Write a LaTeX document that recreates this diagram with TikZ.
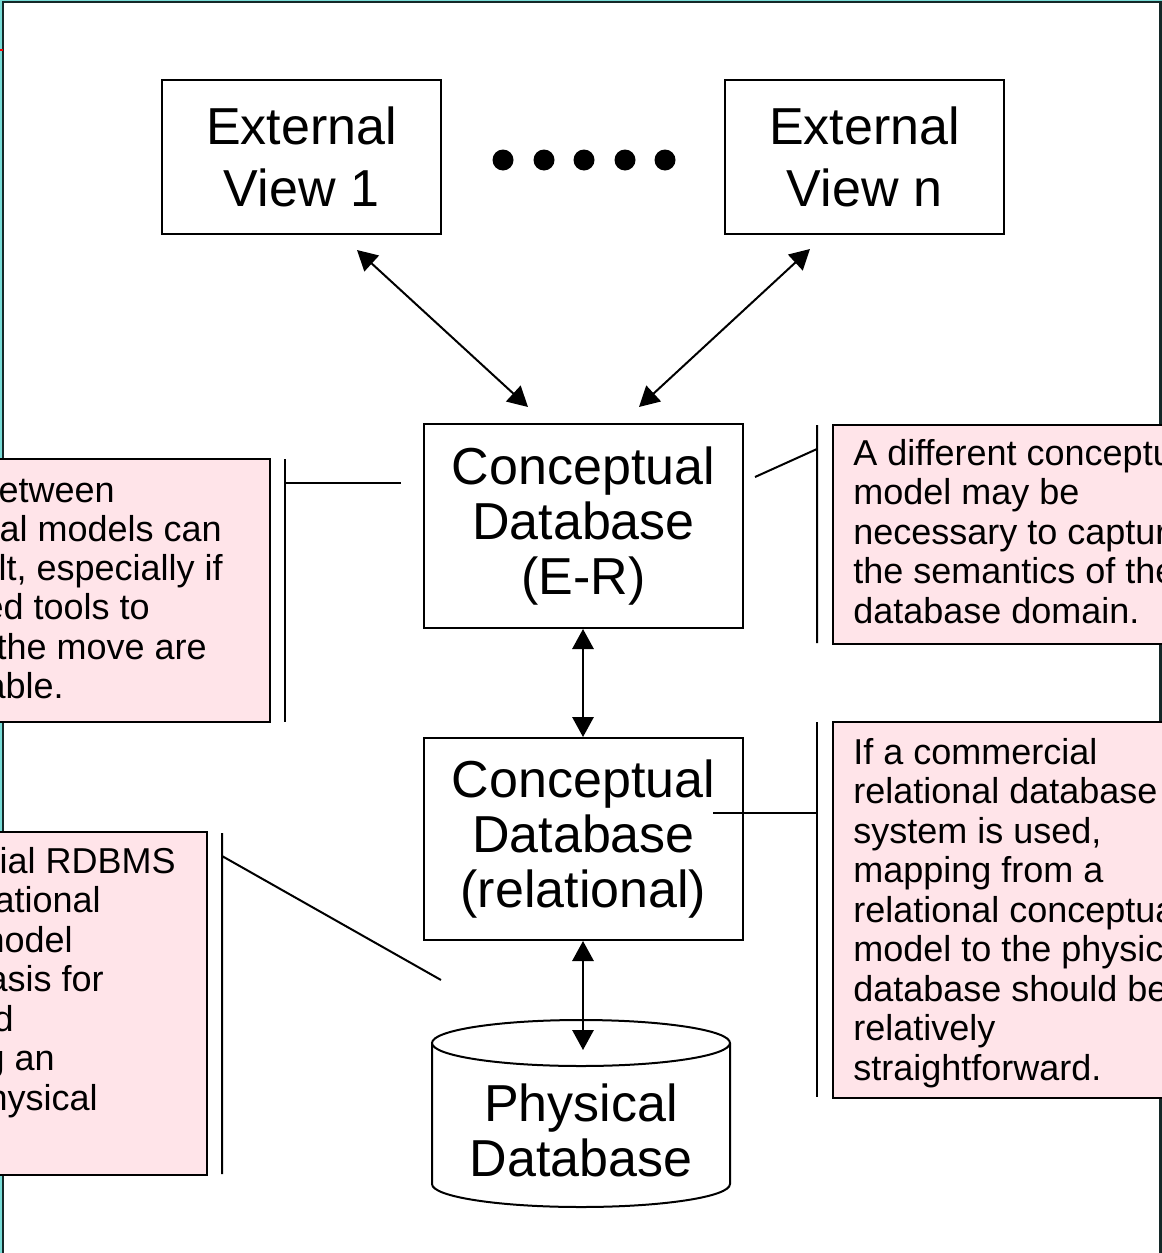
\documentclass[tikz,border=0pt]{standalone}
\usepackage{fontspec}
\setmainfont{Liberation Sans}
\usetikzlibrary{arrows.meta}
\definecolor{notepink}{RGB}{255,228,233}
\definecolor{frameink}{RGB}{20,40,40}
\definecolor{frameglow}{RGB}{120,220,215}
\begin{document}
\begin{tikzpicture}[x=0.75pt,y=-0.75pt,
  box/.style={draw, line width=1.5pt, inner sep=0pt, align=center,
    font=\fontsize{39}{41.25}\selectfont},
  note/.style={draw, line width=1.5pt, fill=notepink},
  notetext/.style={inner sep=0pt, font=\fontsize{27}{29.6}\selectfont},
  callout/.style={line width=1.5pt},
  link/.style={line width=1.5pt,
    {Triangle[length=15pt,width=16pt]}-{Triangle[length=15pt,width=16pt]}}
]
\useasboundingbox (0,0) rectangle (1162,1253);
\clip (0,0) rectangle (1162,1253);

% slide frame
\fill[frameglow] (0,0) rectangle (2,1253);
\fill[frameglow] (0,0) rectangle (1162,1);
\draw[frameink, line width=1.6pt] (3.2,1260) -- (3.2,2.3) -- (1160.5,2.3) -- (1160.5,1260);
\fill[red] (0,48.5) rectangle (2.5,50.5);

% note boxes
\draw[note] (-20,459) rectangle (270,722);
\draw[note] (-20,832) rectangle (207,1175);
\draw[note] (833,425) rectangle (1180,644);
\draw[note] (833,722) rectangle (1180,1098);

% callout bars and leaders
\coordinate (lt1) at (285,459);  \coordinate (lt2) at (285,722);
\coordinate (lt3) at (285,483);  \coordinate (lt4) at (401,483);
\draw[callout] (lt1) -- (lt2) (lt3) -- (lt4);
\coordinate (lb1) at (222,833);  \coordinate (lb2) at (222,1174);
\coordinate (lb3) at (222,856);  \coordinate (lb4) at (441,980);
\draw[callout] (lb1) -- (lb2) (lb3) -- (lb4);
\coordinate (rt1) at (817,425);  \coordinate (rt2) at (817,643);
\coordinate (rt3) at (817,449);  \coordinate (rt4) at (755,477);
\draw[callout] (rt1) -- (rt2) (rt3) -- (rt4);
\coordinate (rb1) at (817,722);  \coordinate (rb2) at (817,1097);
\coordinate (rb3) at (817,813);  \coordinate (rb4) at (713,813);
\draw[callout] (rb1) -- (rb2) (rb3) -- (rb4);

% external views
\node[box, minimum width=209.25pt, minimum height=115.5pt,
  font=\fontsize{39}{46.5}\selectfont] (ev1) at (301.5,157) {External\\View 1};
\node[box, minimum width=209.25pt, minimum height=115.5pt,
  font=\fontsize{39}{46.5}\selectfont] (evn) at (864.5,157) {External\\View n};
\foreach \dx in {503,544,584,625,665}
  \fill (\dx,160) circle[radius=10.5];

% conceptual levels
\node[box, minimum width=239.25pt, minimum height=153pt] (er) at (583.5,526)
  {Conceptual\\Database\\(E-R)};
\node[box, minimum width=239.25pt, minimum height=151.5pt] (rel) at (583.5,839)
  {Conceptual\\Database\\(relational)};

% physical database cylinder
\draw[line width=1.5pt, fill=white] (432,1043) -- (432,1184)
  .. controls (432,1196.7) and (498.7,1207) .. (581,1207)
  .. controls (663.3,1207) and (730,1196.7) .. (730,1184) -- (730,1043);
\draw[line width=1.5pt, fill=white] (581,1043) ellipse[x radius=149, y radius=23];
\node[inner sep=0pt, align=center, font=\fontsize{39}{41.25}\selectfont] (phys)
  at (581,1130.5) {Physical\\Database};
\coordinate (physTip) at (583,1050);

% mappings between levels
\coordinate (a1s) at (357,250);  \coordinate (a1e) at (528,407);
\coordinate (a2s) at (810,249);  \coordinate (a2e) at (639,407);
\draw[link] (a1s) -- (a1e);
\draw[link] (a2s) -- (a2e);
\draw[link] (er.south -| 583,0) -- (rel.north -| 583,0);
\draw[link] (rel.south -| 583,0) -- (physTip);

% note texts
\foreach \t/\x [count=\i from 0] in {etween/115, al models can/222,
    {lt, especially if}/223, ed tools to/150, the move are/207, able./64}
  \node[notetext, anchor=base east] at (\x,502+39.3*\i) {\t};
\foreach \t/\x [count=\i from 0] in {ial RDBMS/176, ational/101, nodel/73,
    asis for/104, d/14, g an/55, hysical/98}
  \node[notetext, anchor=base east] at (\x,873+39.5*\i) {\t};
\foreach \t [count=\i from 0] in {A different conceptu, model may be,
    necessary to captur, the semantics of the, database domain.}
  \node[notetext, anchor=base west] at (853,465+39.5*\i) {\t};
\foreach \t [count=\i from 0] in {If a commercial, relational database,
    {system is used,}, mapping from a, relational conceptual,
    model to the physical, database should be, relatively, straightforward.}
  \node[notetext, anchor=base west] at (853,764+39.5*\i) {\t};
\end{tikzpicture}
\end{document}
